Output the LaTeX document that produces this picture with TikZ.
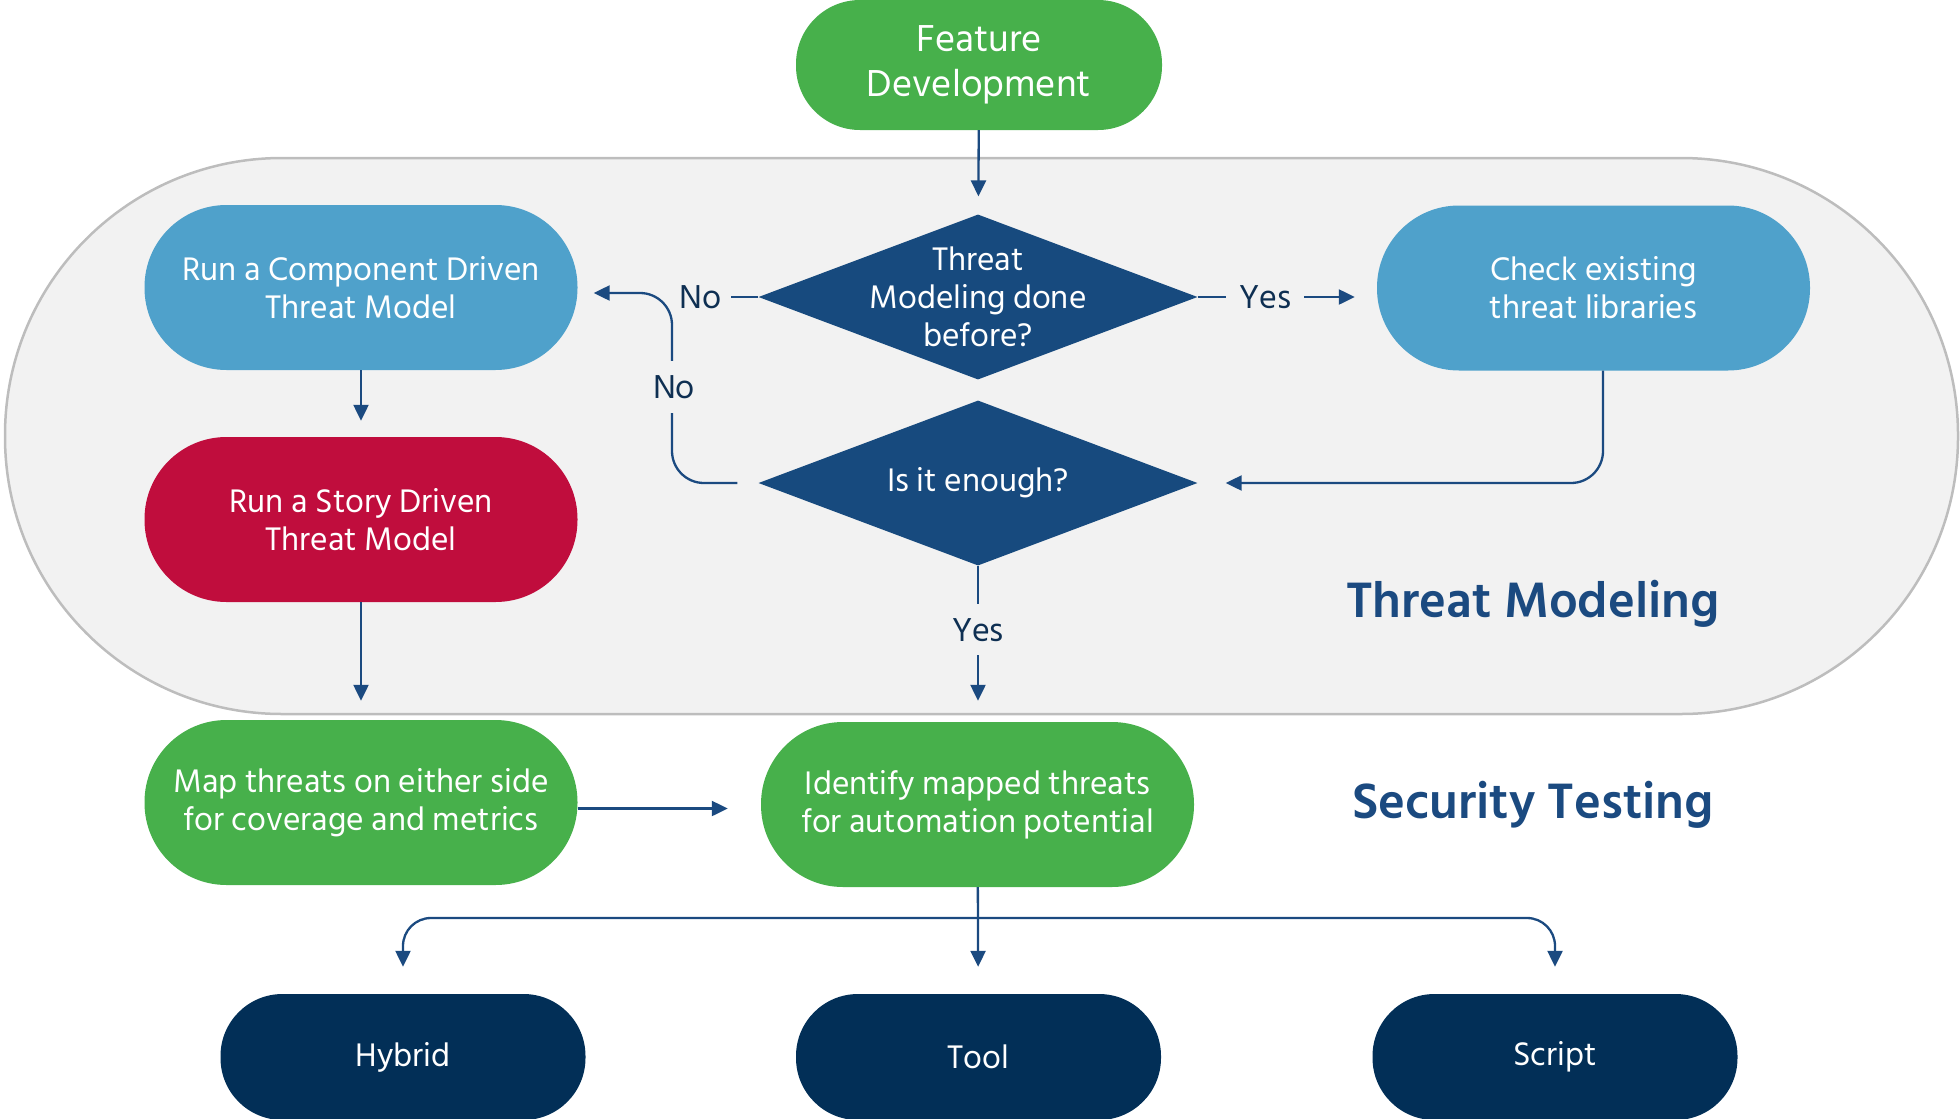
\documentclass[tikz,border=0pt]{standalone}
\usepackage{fontspec}
\setmainfont{Hind Siliguri}
\usetikzlibrary{shapes.geometric,arrows.meta}

\definecolor{fdgreen}{HTML}{47B04B}
\definecolor{lblue}{HTML}{4FA1CB}
\definecolor{storyred}{HTML}{C00D3D}
\definecolor{dmdblue}{HTML}{174A7E}
\definecolor{deepnavy}{HTML}{022F57}
\definecolor{arrblue}{HTML}{1B4A80}
\definecolor{lblnavy}{HTML}{0E2F52}
\definecolor{bggray}{HTML}{F2F2F2}
\definecolor{bgborder}{HTML}{BDBDBD}

\begin{document}
\begin{tikzpicture}[x=1pt,y=-1pt,
  pill/.style={rectangle, inner sep=0pt, text=white, align=center,
    font=\fontsize{33.5}{38}\selectfont},
  midbox/.style={pill, minimum width=433pt, minimum height=165pt, rounded corners=82pt},
  endbox/.style={pill, fill=deepnavy, minimum width=365pt, minimum height=126pt, rounded corners=62pt},
  dmd/.style={diamond, fill=dmdblue, inner sep=0pt, minimum width=439pt, minimum height=165pt},
  dtext/.style={text=white, align=center, inner sep=0pt, font=\fontsize{33.5}{38}\selectfont},
  lbl/.style={text=lblnavy, font=\fontsize{34}{38}\selectfont, inner sep=0pt},
  zonetitle/.style={text=arrblue, font=\bfseries\fontsize{51}{56}\selectfont},
  arr/.style={draw=arrblue, line width=2.3pt, -{Triangle[length=16pt,width=15pt]}},
  plain/.style={draw=arrblue, line width=2.3pt}]

\useasboundingbox (0,0) rectangle (1960,1119);

% threat modeling zone
\node[draw=bgborder, fill=bggray, line width=2.5pt, rounded corners=277pt,
  minimum width=1953pt, minimum height=556pt, inner sep=0pt] (tmzone) at (981.5,436) {};

% nodes
\node[pill, fill=fdgreen, minimum width=366pt, minimum height=130pt, rounded corners=64pt,
  font=\fontsize{38.5}{45}\selectfont] (fd) at (979,65) {Feature\\Development};

\node[dmd] (d1) at (978,297) {};
\node[dtext] (d1t) at (d1) {Threat\\Modeling done\\before?};
\node[dmd] (d2) at (978,483) {};
\node[dtext] (d2t) at (d2) {Is it enough?};

\node[midbox, fill=lblue] (comp) at (361,287.5) {Run a Component Driven\\Threat Model};
\node[midbox, fill=storyred] (story) at (361,519.5) {Run a Story Driven\\Threat Model};
\node[midbox, fill=lblue] (check) at (1593.5,288) {Check existing\\threat libraries};

\node[midbox, fill=fdgreen] (map) at (361,802.5) {Map threats on either side\\for coverage and metrics};
\node[midbox, fill=fdgreen] (ident) at (977.5,804.5) {Identify mapped threats\\for automation potential};

\node[endbox] (hybrid) at (403,1057) {Hybrid};
\node[endbox] (tool) at (978.5,1057) {Tool};
\node[endbox] (script) at (1555,1057) {Script};

\node[zonetitle] (tmtitle) at (1533,604) {Threat Modeling};
\node[zonetitle] (sttitle) at (1533,805) {Security Testing};

% connectors
\draw[arr, shorten >=18pt] (fd) -- (d1);

\draw[arr, shorten >=22pt] (d1.east) -- node[lbl, fill=bggray, pos=0.378, inner xsep=13pt, inner ysep=4pt] (yes1) {Yes} (d1.east -| check.west);

\draw[plain] (d1.west) -- node[lbl, pos=1, anchor=east, inner xsep=9pt] (no1) {No} ++(-27,0);

\coordinate (nojoin) at (672,293);
\draw[arr, rounded corners=32pt, shorten <=21pt, shorten >=16pt]
  (d2.west) -| (nojoin) -- (comp.east |- nojoin);
\node[lbl, fill=bggray, inner ysep=14pt, inner xsep=4pt] (no2) at (674,387) {No};

\draw[arr, rounded corners=32pt, shorten >=28pt] ([xshift=9.5pt]check.south) |- (d2.east);

\draw[arr, shorten >=16pt] (comp) -- (story);
\draw[arr, shorten >=19pt] (story) -- (map);

\draw[arr, shorten >=21pt] (d2.south) -- node[lbl, fill=bggray, pos=0.41, inner ysep=14pt, inner xsep=4pt] (yes2) {Yes} (ident.north -| d2.south);

\draw[arr, shorten >=33pt] ([yshift=-6pt]map.east) -- ([yshift=-6pt]map.east -| ident.west);

\coordinate (jn) at (978,918);
\draw[arr, shorten >=27pt] (ident) -- (tool);
\draw[arr, rounded corners=28pt, shorten >=27pt] (jn) -| (hybrid.north);
\draw[arr, rounded corners=28pt, shorten >=27pt] (jn) -| (script.north);

\end{tikzpicture}
\end{document}
